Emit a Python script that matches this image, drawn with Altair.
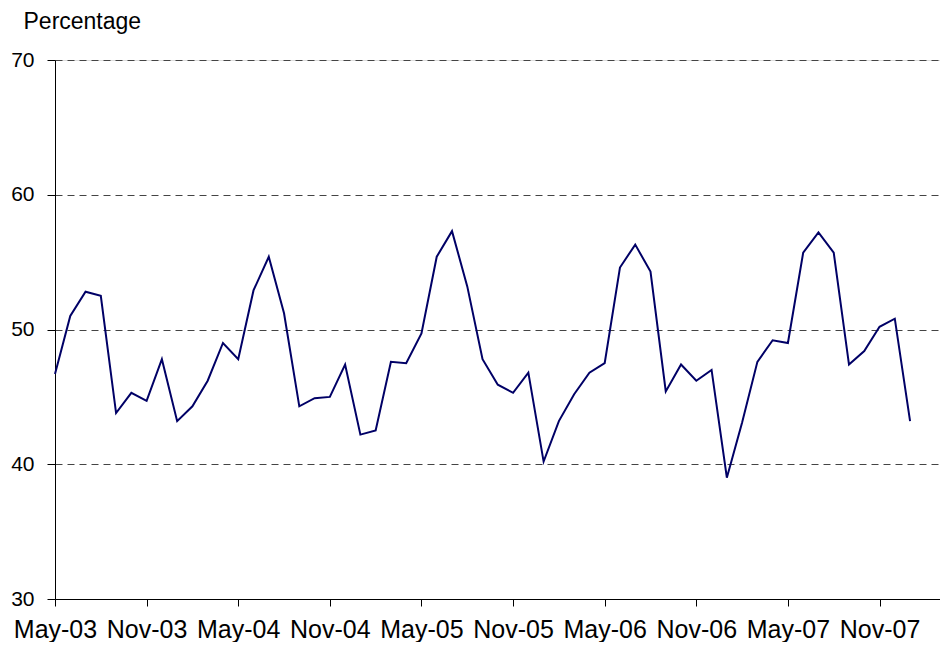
import altair as alt
import pandas as pd

# Monthly values, May-03 .. Jan-08
months = [
    "May-03", "Jun-03", "Jul-03", "Aug-03", "Sep-03", "Oct-03", "Nov-03", "Dec-03",
    "Jan-04", "Feb-04", "Mar-04", "Apr-04", "May-04", "Jun-04", "Jul-04", "Aug-04",
    "Sep-04", "Oct-04", "Nov-04", "Dec-04", "Jan-05", "Feb-05", "Mar-05", "Apr-05",
    "May-05", "Jun-05", "Jul-05", "Aug-05", "Sep-05", "Oct-05", "Nov-05", "Dec-05",
    "Jan-06", "Feb-06", "Mar-06", "Apr-06", "May-06", "Jun-06", "Jul-06", "Aug-06",
    "Sep-06", "Oct-06", "Nov-06", "Dec-06", "Jan-07", "Feb-07", "Mar-07", "Apr-07",
    "May-07", "Jun-07", "Jul-07", "Aug-07", "Sep-07", "Oct-07", "Nov-07", "Dec-07",
    "Jan-08",
]
values = [
    46.7, 51.0, 52.8, 52.5, 43.8, 45.3, 44.7, 47.8,
    43.2, 44.3, 46.2, 49.0, 47.8, 52.9, 55.4, 51.2,
    44.3, 44.9, 45.0, 47.4, 42.2, 42.5, 47.6, 47.5,
    49.7, 55.4, 57.3, 53.2, 47.8, 45.9, 45.3, 46.8,
    40.2, 43.2, 45.2, 46.8, 47.5, 54.6, 56.3, 54.3,
    45.4, 47.4, 46.2, 47.0, 39.0, 43.1, 47.6, 49.2,
    49.0, 55.7, 57.2, 55.7, 47.4, 48.4, 50.2, 50.8,
    43.2,
]
tick_labels = ["May-03", "Nov-03", "May-04", "Nov-04", "May-05",
               "Nov-05", "May-06", "Nov-06", "May-07", "Nov-07"]
y_ticks = [30, 40, 50, 60, 70]

df = pd.DataFrame({"idx": list(range(len(months))), "month": months, "value": values})

tick_idx = [months.index(t) for t in tick_labels]
label_array = "[" + ",".join("'" + t + "'" for t in tick_labels) + "]"

FONT = "Liberation Sans"

chart = alt.Chart(df).mark_line(color="#000066", strokeWidth=2).encode(
    x=alt.X(
        "idx:Q",
        scale=alt.Scale(domain=[0, 57.96], nice=False, zero=False),
        axis=alt.Axis(
            values=tick_idx,
            labelExpr=label_array + "[round(datum.value/6)]",
            grid=False,
            domainColor="black",
            tickColor="black",
            tickSize=7,
            labelFontSize=25,
            labelFont=FONT,
            labelColor="black",
            labelPadding=11,
            labelFlush=False,
            labelOverlap=False,
            title=None,
        ),
    ),
    y=alt.Y(
        "value:Q",
        scale=alt.Scale(domain=[30, 70], nice=False, zero=False),
        axis=alt.Axis(
            values=y_ticks,
            grid=True,
            gridDash=[7, 5],
            gridColor="#444444",
            gridWidth=1,
            domainColor="black",
            tickColor="black",
            tickSize=8,
            labelFontSize=21,
            labelFont=FONT,
            labelColor="black",
            labelPadding=13,
            title="Percentage",
            titleAngle=0,
            titleX=-32,
            titleY=-32,
            titleAlign="left",
            titleBaseline="alphabetic",
            titleFontSize=23,
            titleFont=FONT,
            titleFontWeight="normal",
            titleColor="black",
        ),
    ),
).properties(
    width=885,
    height=539,
    autosize=alt.AutoSizeParams(type="none"),
    padding={"left": 47, "top": 52, "right": 0, "bottom": 43},
).configure_view(stroke=None).configure(background="white")

chart.save("out.html", embed_options={"renderer": "svg", "actions": False})
